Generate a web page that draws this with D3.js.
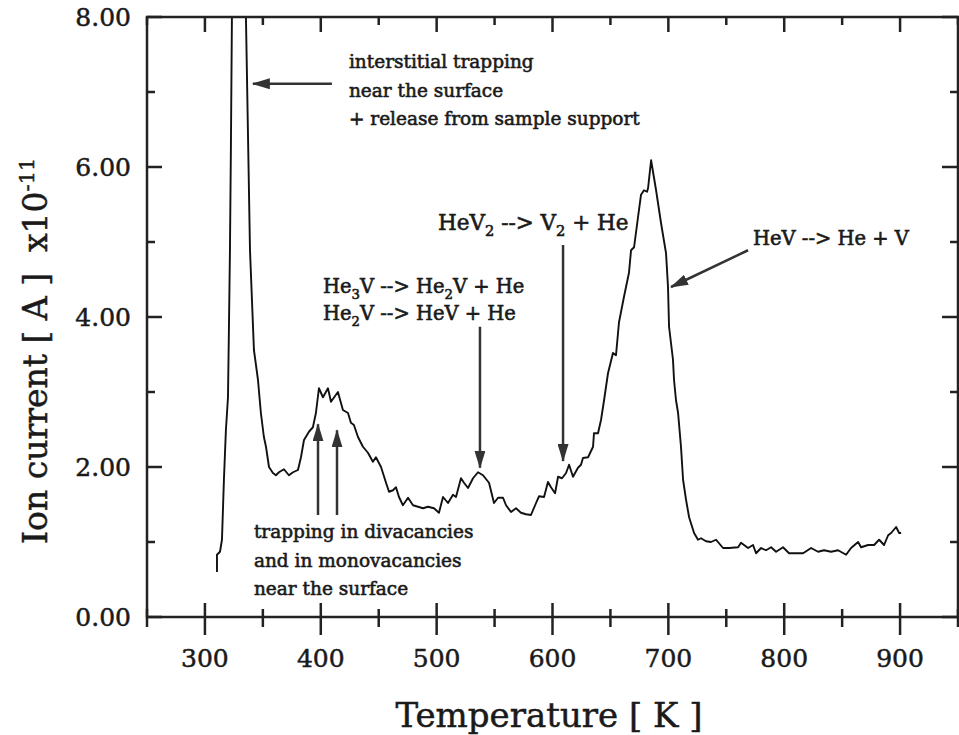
<!doctype html>
<html>
<head>
<meta charset="utf-8">
<script src="https://d3js.org/d3.v7.min.js"></script>
<style>
body { margin: 0; background: #fff; }
text { font-family: "DejaVu Serif", serif; fill: #1a1a1a; stroke: #1a1a1a; stroke-width: 0.5px; white-space: pre; }
</style>
</head>
<body>
<svg id="chart" width="959" height="735"></svg>
<script>
// thermal desorption spectrum
var temperature = [310.4,310.4,313.0,314.7,316.4,318.1,319.9,320.7,321.6,322.4,
  323.3,329.0,335.4,338.9,342.3,345.8,348.3,350.9,352.7,355.3,
  358.7,361.3,363.9,368.2,372.5,376.0,380.3,382.9,385.5,389.8,
  393.2,395.8,398.4,401.9,406.2,408.8,414.8,419.1,423.5,426.0,
  428.6,432.1,436.4,440.7,445.0,447.6,452.0,456.3,458.9,462.3,
  464.9,467.5,470.9,475.3,479.6,483.9,488.2,492.5,497.7,502.0,
  505.5,509.8,514.1,516.7,521.0,523.6,527.1,531.4,535.7,540.0,
  545.2,549.5,553.0,557.3,559.9,564.2,568.5,572.8,577.1,581.4,
  585.8,588.4,592.7,596.1,598.7,602.2,604.8,608.2,611.7,614.3,
  617.7,622.0,624.6,626.3,630.7,635.0,635.8,639.3,641.9,644.5,
  647.9,652.2,654.8,657.4,661.7,666.0,667.8,670.4,673.8,676.4,
  679.0,681.6,682.5,685.1,689.4,693.7,698.0,699.7,700.6,704.0,
  704.9,706.6,708.4,710.9,712.7,715.3,717.9,722.2,725.6,728.2,
  732.5,736.8,741.2,747.2,752.4,760.2,762.7,768.8,773.1,775.7,
  780.0,784.3,788.7,793.0,799.0,804.2,810.2,816.3,823.2,829.2,
  834.4,840.5,846.5,853.4,857.7,863.8,866.3,872.4,877.6,881.9,
  886.2,889.7,892.3,896.6,899.2,900.9];
var current = [0.60,0.83,0.87,1.03,1.83,2.49,2.93,3.83,4.89,6.23,
  8.00,9.60,8.00,4.89,3.56,3.16,2.72,2.40,2.27,2.00,
  1.92,1.89,1.93,1.97,1.89,1.93,1.96,2.13,2.36,2.47,
  2.53,2.72,3.05,2.93,3.05,2.87,3.00,2.76,2.72,2.59,
  2.56,2.40,2.27,2.19,2.07,2.13,2.00,1.79,1.67,1.69,
  1.73,1.60,1.49,1.59,1.49,1.47,1.45,1.47,1.45,1.39,
  1.60,1.52,1.63,1.60,1.85,1.79,1.72,1.85,1.93,1.89,
  1.79,1.52,1.59,1.59,1.49,1.40,1.45,1.39,1.37,1.36,
  1.52,1.61,1.60,1.80,1.73,1.65,1.87,1.85,1.92,2.03,
  1.87,1.99,2.03,2.12,2.13,2.27,2.45,2.45,2.63,2.89,
  3.25,3.52,3.49,3.93,4.27,4.59,4.89,4.93,5.33,5.63,
  5.69,5.67,5.72,6.09,5.69,5.25,4.85,4.40,3.87,3.43,
  3.16,2.89,2.72,2.27,1.83,1.56,1.33,1.12,1.03,1.05,
  1.01,1.00,1.03,0.92,0.92,0.93,0.99,0.92,0.96,0.85,
  0.92,0.89,0.93,0.87,0.93,0.85,0.85,0.85,0.92,0.87,
  0.89,0.87,0.89,0.83,0.92,1.00,0.93,0.96,0.96,1.03,
  0.96,1.09,1.12,1.20,1.12,1.12];

var xMajor = [300, 400, 500, 600, 700, 800, 900];
var xMinor = [250, 350, 450, 550, 650, 750, 850, 950];
var yMajor = [0, 2, 4, 6, 8];
var yMinor = [1, 3, 5, 7];

// annotation arrows in data units: [T1, I1, T2, I2] (tail -> head)
var arrows = [
  [409.6, 7.11, 341.4, 7.11],
  [768.8, 4.89, 702.3, 4.40],
  [609.1, 4.96, 609.1, 2.08],
  [537.4, 3.87, 537.4, 1.99],
  [397.6, 1.36, 397.6, 2.57],
  [414.0, 1.36, 414.0, 2.49]
];
// notes: [T, I baseline, text, font size]; "_n" marks a subscript
var notes = [
  [424.3, 7.32, "interstitial trapping", 18.5],
  [424.3, 6.94, "near the surface", 18.5],
  [424.3, 6.56, "+ release from sample support", 18.5],
  [342.3, 1.05, "trapping in divacancies", 18.5],
  [342.3, 0.67, "and in monovacancies", 18.5],
  [342.3, 0.29, "near the surface", 18.5],
  [401.9, 4.32, "He_3V --> He_2V + He", 19.5],
  [401.9, 3.96, "He_2V --> HeV + He", 19.5],
  [501.2, 5.16, "HeV_2 --> V_2 + He", 21.5],
  [773.1, 4.96, "HeV --> He + V", 19.5]
];

var svg = d3.select("#chart");
var mLeft = 147, mRight = 958, mTop = 17, mBottom = 617;

var x = d3.scaleLinear().domain([250, 950]).range([mLeft, mRight]);
var y = d3.scaleLinear().domain([0, 8]).range([mBottom, mTop]);

var defs = svg.append("defs");
defs.append("clipPath").attr("id", "clip")
  .append("rect")
  .attr("x", mLeft).attr("y", mTop)
  .attr("width", mRight - mLeft).attr("height", mBottom - mTop);

defs.append("marker")
  .attr("id", "head")
  .attr("markerUnits", "userSpaceOnUse")
  .attr("viewBox", "0 0 18 11")
  .attr("markerWidth", 18).attr("markerHeight", 11)
  .attr("refX", 17).attr("refY", 5.5)
  .attr("orient", "auto")
  .append("path")
  .attr("d", "M0,0L18,5.5L0,11Z")
  .style("fill", "#333");

// curve
var pts = d3.zip(temperature, current);
var line = d3.line()
  .x(function(d) { return x(d[0]); })
  .y(function(d) { return y(d[1]); });

svg.append("path")
  .datum(pts)
  .attr("clip-path", "url(#clip)")
  .attr("d", line)
  .style("fill", "none")
  .style("stroke", "#111")
  .style("stroke-width", 1.9)
  .style("stroke-linejoin", "round");

// frame
svg.append("rect")
  .attr("x", mLeft).attr("y", mTop)
  .attr("width", mRight - mLeft).attr("height", mBottom - mTop)
  .style("fill", "none")
  .style("stroke", "#222")
  .style("stroke-width", 2.5);

// ticks
var ticks = svg.append("g").style("stroke", "#222").style("stroke-width", 2.5);
ticks.selectAll(".xb").data(xMajor).enter().append("line")
  .attr("x1", x).attr("x2", x).attr("y1", mBottom - 14).attr("y2", mBottom + 18);
ticks.selectAll(".xbm").data(xMinor).enter().append("line")
  .attr("x1", x).attr("x2", x).attr("y1", mBottom - 8).attr("y2", mBottom + 10);
ticks.selectAll(".xt").data(xMajor).enter().append("line")
  .attr("x1", x).attr("x2", x).attr("y1", mTop).attr("y2", mTop + 15);
ticks.selectAll(".xtm").data(xMinor).enter().append("line")
  .attr("x1", x).attr("x2", x).attr("y1", mTop).attr("y2", mTop + 8);
ticks.selectAll(".yl").data(yMajor).enter().append("line")
  .attr("y1", y).attr("y2", y).attr("x1", mLeft).attr("x2", mLeft + 15);
ticks.selectAll(".ylm").data(yMinor).enter().append("line")
  .attr("y1", y).attr("y2", y).attr("x1", mLeft).attr("x2", mLeft + 8);
ticks.selectAll(".yr").data(yMajor).enter().append("line")
  .attr("y1", y).attr("y2", y).attr("x1", mRight - 16).attr("x2", mRight);
ticks.selectAll(".yrm").data(yMinor).enter().append("line")
  .attr("y1", y).attr("y2", y).attr("x1", mRight - 8).attr("x2", mRight);

// tick labels
svg.append("g").selectAll("text").data(xMajor).enter().append("text")
  .attr("x", x).attr("y", 667)
  .attr("text-anchor", "middle")
  .style("font-size", "25px")
  .text(function(d) { return d; });

svg.append("g").selectAll("text").data(yMajor).enter().append("text")
  .attr("x", 131).attr("y", function(d) { return y(d) + 9; })
  .attr("text-anchor", "end")
  .style("font-size", "25px")
  .text(function(d) { return d.toFixed(2); });

// axis titles
svg.append("text")
  .attr("x", 549).attr("y", 727)
  .attr("text-anchor", "middle")
  .style("font-size", "34px")
  .text("Temperature [ K ]");

var yt = svg.append("text")
  .attr("transform", "translate(47,544)rotate(-90)")
  .style("font-size", "33px");
yt.append("tspan").text("Ion current [ A ]  x10");
yt.append("tspan").attr("dy", -13).style("font-size", "21px").text("-11");

// arrows
svg.append("g").selectAll("line").data(arrows).enter().append("line")
  .attr("x1", function(d) { return x(d[0]); })
  .attr("y1", function(d) { return y(d[1]); })
  .attr("x2", function(d) { return x(d[2]); })
  .attr("y2", function(d) { return y(d[3]); })
  .attr("marker-end", "url(#head)")
  .style("stroke", "#333")
  .style("stroke-width", 2.5);

// notes, with subscripts
notes.forEach(function(n) {
  var t = svg.append("text")
    .attr("x", x(n[0])).attr("y", y(n[1]))
    .style("font-size", n[3] + "px")
    .style("stroke-width", "0.6px");
  var parts = n[2].split(/_(\d)/);
  var shifted = false;
  parts.forEach(function(p, i) {
    if (p === "") return;
    var s = t.append("tspan").text(p);
    if (i % 2 === 1) {
      s.attr("dy", 6).style("font-size", (n[3] * 0.68) + "px");
      shifted = true;
    } else if (shifted) {
      s.attr("dy", -6);
      shifted = false;
    }
  });
});
</script>
</body>
</html>
